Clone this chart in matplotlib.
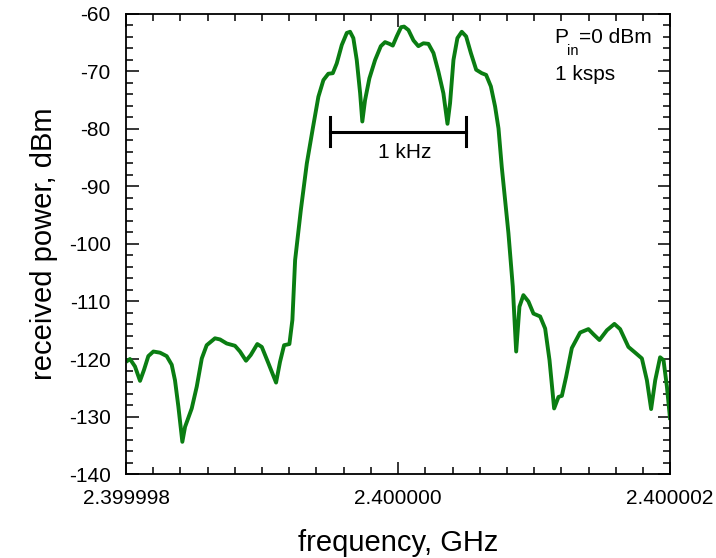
import matplotlib
matplotlib.use("Agg")
from matplotlib import pyplot as plt
from matplotlib.ticker import MultipleLocator
import numpy as np

plt.rcParams['font.family'] = ['Liberation Sans', 'DejaVu Sans']
plt.rcParams['axes.unicode_minus'] = False

# frequency offset from 2.4 GHz, kHz
offset_khz = [
    -2.000, -1.971, -1.934, -1.897, -1.868, -1.836, -1.799, -1.750, -1.701, -1.664,
    -1.640, -1.615, -1.586, -1.566, -1.517, -1.480, -1.443, -1.407, -1.346, -1.309,
    -1.260, -1.199, -1.162, -1.118, -1.083, -1.035, -1.002, -0.954, -0.897, -0.868,
    -0.838, -0.799, -0.777, -0.757, -0.715, -0.671, -0.627, -0.586, -0.549, -0.513,
    -0.480, -0.451, -0.414, -0.377, -0.353, -0.329, -0.304, -0.279, -0.263, -0.243,
    -0.211, -0.169, -0.127, -0.096, -0.064, -0.039, -0.010, 0.022, 0.044, 0.076,
    0.113, 0.149, 0.186, 0.223, 0.260, 0.296, 0.333, 0.363, 0.382, 0.407,
    0.436, 0.468, 0.500, 0.535, 0.574, 0.615, 0.647, 0.682, 0.713, 0.738,
    0.762, 0.811, 0.843, 0.868, 0.892, 0.921, 0.958, 0.995, 1.044, 1.081,
    1.113, 1.147, 1.179, 1.204, 1.235, 1.277, 1.338, 1.399, 1.436, 1.480,
    1.535, 1.590, 1.632, 1.693, 1.743, 1.792, 1.829, 1.860, 1.890, 1.926,
    1.951, 1.976, 2.000,
]
power_dbm = [
    -120.5, -120.0, -121.3, -123.8, -121.9, -119.5, -118.7, -118.9, -119.5, -121.0,
    -123.7, -128.3, -134.4, -131.8, -128.6, -124.8, -119.9, -117.6, -116.4, -116.6,
    -117.3, -117.7, -118.7, -120.3, -119.3, -117.4, -117.9, -120.7, -124.1, -120.5,
    -117.6, -117.4, -113.2, -102.8, -94.1, -86.0, -79.9, -74.4, -71.5, -70.4,
    -70.3, -68.6, -65.4, -63.3, -63.1, -64.2, -68.0, -73.8, -78.7, -75.0,
    -71.2, -68.0, -65.6, -64.9, -65.2, -65.5, -63.9, -62.3, -62.2, -62.8,
    -64.6, -65.6, -65.1, -65.2, -66.8, -70.0, -73.8, -79.1, -75.5, -68.0,
    -64.2, -63.1, -63.9, -66.8, -69.7, -70.3, -70.6, -72.6, -76.1, -79.9,
    -86.6, -98.1, -107.4, -118.7, -110.9, -108.9, -110.0, -112.1, -112.6, -114.7,
    -120.2, -128.6, -126.6, -126.4, -123.1, -118.1, -115.4, -114.8, -115.7, -116.7,
    -115.0, -113.9, -114.8, -117.9, -118.9, -119.9, -123.7, -128.7, -123.7, -119.7,
    -120.2, -124.8, -130.6,
]
xtick_labels = ['2.399998', '2.400000', '2.400002']
xtick_khz = [-2, 0, 2]
span_khz = 1.0

f0_ghz = 2.4
freq_ghz = f0_ghz + np.array(offset_khz) * 1e-6

fig = plt.figure(figsize=(7.16, 5.58), dpi=100)
ax = fig.add_axes([0.176, 0.1505, 0.76, 0.8245])

ax.plot(freq_ghz, power_dbm, color='#0a7d12', lw=2.8,
        solid_joinstyle='round', solid_capstyle='butt')

ax.set_xlim(f0_ghz - 2e-6, f0_ghz + 2e-6)
ax.set_ylim(-140, -60)
ax.set_xticks([f0_ghz + k * 1e-6 for k in xtick_khz])
ax.set_xticklabels(xtick_labels)
ax.xaxis.set_minor_locator(MultipleLocator(0.2e-6))
ax.yaxis.set_major_locator(MultipleLocator(10))
ax.yaxis.set_minor_locator(MultipleLocator(2))
ax.tick_params(which='both', direction='in', top=True, right=True, labelsize=15, width=1.1)
ax.tick_params(which='major', length=9)
ax.tick_params(which='minor', length=5)
ax.tick_params(axis='x', which='major', pad=11)
ax.tick_params(axis='y', which='major', pad=11)
for s in ax.spines.values():
    s.set_linewidth(1.3)

ax.set_xlabel('frequency, GHz', fontsize=21, labelpad=15)
ax.set_ylabel('received power, dBm', fontsize=21, labelpad=8)

# 1 kHz span marker
bx0 = f0_ghz - span_khz / 2 * 1e-6
bx1 = f0_ghz + span_khz / 2 * 1e-6
ax.plot([bx0, bx1], [-80.5, -80.5], color='black', lw=2.2)
ax.plot([bx0, bx0], [-78.0, -83.0], color='black', lw=2.2)
ax.plot([bx1, bx1], [-78.0, -83.0], color='black', lw=2.2)
ax.text(f0_ghz + 0.05e-6, -82.5, '1 kHz', fontsize=15, ha='center', va='top')

# input power / symbol rate note, subscript set by hand
tx, ty = f0_ghz + 1.15e-6, -65.0
fig.canvas.draw()
rend = fig.canvas.get_renderer()
tp = ax.text(tx, ty, 'P', fontsize=15, ha='left', va='baseline')
w_p = tp.get_window_extent(rend).width * 72 / fig.dpi
ts = ax.annotate('in', xy=(tx, ty), xytext=(w_p - 1, -8.5), textcoords='offset points',
                 fontsize=10.5, ha='left', va='baseline')
w_s = ts.get_window_extent(rend).width * 72 / fig.dpi
ax.annotate('=0 dBm', xy=(tx, ty), xytext=(w_p - 1 + w_s, 0), textcoords='offset points',
            fontsize=15, ha='left', va='baseline')
ax.text(tx, -71.4, '1 ksps', fontsize=15, ha='left', va='baseline')

plt.savefig("out.png", dpi=100)
